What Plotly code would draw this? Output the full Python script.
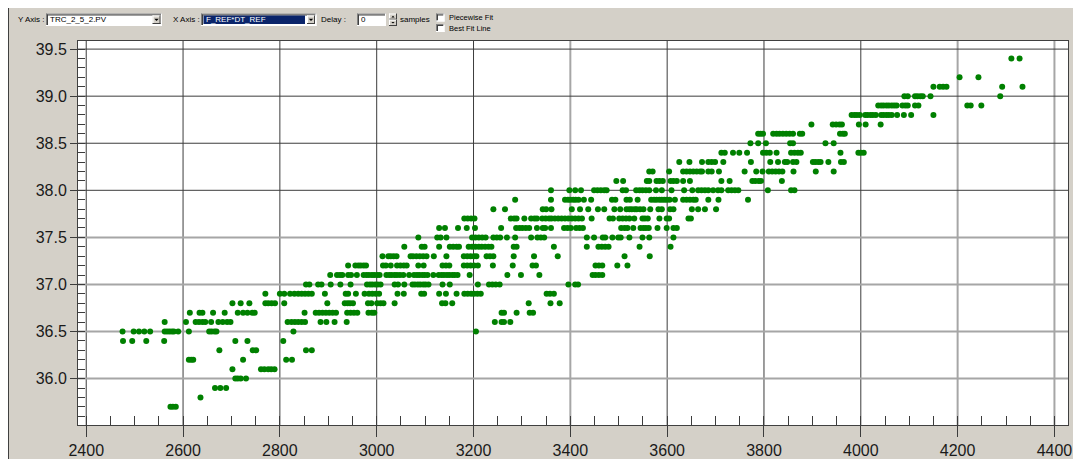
import plotly.graph_objects as go

# ---------------- data ----------------
row_y = [35.7, 35.8, 35.9, 36.0, 36.1, 36.2, 36.3, 36.4, 36.5, 36.6, 36.7, 36.8,
         36.9, 37.0, 37.1, 37.2, 37.3, 37.4, 37.5, 37.6, 37.7, 37.8, 37.9, 38.0,
         38.1, 38.2, 38.3, 38.4, 38.5, 38.6, 38.7, 38.8, 38.9, 39.0, 39.1, 39.2, 39.4]

row_x = [
    [2574, 2579, 2585],
    [2636],
    [2666, 2677, 2689],
    [2708, 2713, 2719, 2730],
    [2702, 2761, 2768, 2776, 2782, 2789],
    [2612, 2617, 2621, 2724, 2813, 2825],
    [2675, 2744, 2751, 2854, 2866],
    [2476, 2495, 2524, 2561, 2708, 2733, 2807],
    [2475, 2498, 2509, 2520, 2532, 2562, 2567, 2572, 2577, 2581, 2590, 2612, 2654, 2659,
     2665, 2669, 2828, 3205],
    [2562, 2606, 2626, 2633, 2640, 2646, 2658, 2673, 2682, 2691, 2698, 2816, 2824, 2831,
     2838, 2845, 2852, 2884, 2896, 2913, 2938, 3244, 3258, 3263, 3276],
    [2614, 2634, 2640, 2662, 2686, 2713, 2724, 2733, 2743, 2748, 2851, 2874, 2881, 2888,
     2895, 2902, 2909, 2916, 2939, 2946, 2953, 2960, 2983, 2990, 2995, 3258, 3263, 3289,
     3316, 3323],
    [2702, 2719, 2737, 2770, 2776, 2783, 2790, 2809, 2898, 2934, 2940, 2945, 2951, 2982,
     2989, 3001, 3008, 3014, 3037, 3135, 3142, 3156, 3314, 3359, 3378],
    [2770, 2800, 2809, 2821, 2830, 2838, 2845, 2852, 2859, 2866, 2893, 2936, 2941, 2957,
     2975, 2984, 2991, 2998, 3005, 3043, 3056, 3092, 3098, 3129, 3143, 3165, 3181, 3188,
     3195, 3201, 3208, 3215, 3351, 3358, 3366],
    [2854, 2861, 2879, 2886, 2905, 2925, 2946, 2980, 2986, 2991, 2997, 3002, 3008, 3037,
     3044, 3057, 3074, 3079, 3085, 3090, 3096, 3101, 3107, 3136, 3151, 3209, 3232, 3239,
     3246, 3254, 3396, 3410, 3416],
    [2904, 2918, 2924, 2929, 2941, 2947, 2959, 2973, 2979, 2984, 2990, 2995, 3001, 3006,
     3020, 3026, 3031, 3037, 3042, 3048, 3055, 3067, 3077, 3083, 3088, 3094, 3099, 3105,
     3117, 3128, 3134, 3139, 3145, 3150, 3156, 3161, 3167, 3192, 3270, 3298, 3336, 3446,
     3452, 3459, 3466],
    [2941, 2956, 2962, 2967, 2973, 2978, 3013, 3019, 3029, 3042, 3049, 3056, 3062, 3086,
     3097, 3136, 3143, 3150, 3180, 3187, 3194, 3201, 3209, 3240, 3281, 3322, 3329, 3452,
     3459, 3466, 3497, 3518],
    [3012, 3024, 3029, 3035, 3041, 3070, 3075, 3082, 3089, 3096, 3103, 3118, 3144, 3180,
     3187, 3194, 3201, 3206, 3227, 3234, 3241, 3283, 3325, 3374, 3512, 3564],
    [3057, 3093, 3099, 3129, 3151, 3158, 3165, 3170, 3190, 3197, 3204, 3211, 3217, 3224,
     3231, 3237, 3283, 3289, 3366, 3434, 3458, 3465, 3472, 3479, 3543, 3607],
    [3086, 3125, 3132, 3144, 3197, 3204, 3211, 3218, 3225, 3241, 3248, 3255, 3269, 3286,
     3319, 3332, 3339, 3346, 3434, 3449, 3467, 3472, 3487, 3499, 3504, 3522, 3549, 3563,
     3613],
    [3129, 3141, 3168, 3186, 3203, 3257, 3288, 3295, 3301, 3308, 3315, 3331, 3343, 3348,
     3360, 3387, 3394, 3401, 3412, 3419, 3426, 3505, 3512, 3518, 3530, 3545, 3551, 3556,
     3562, 3580, 3599, 3613, 3620],
    [3181, 3188, 3195, 3202, 3277, 3284, 3289, 3305, 3319, 3326, 3331, 3342, 3349, 3356,
     3361, 3368, 3375, 3382, 3389, 3396, 3403, 3410, 3417, 3424, 3444, 3481, 3488, 3501,
     3508, 3515, 3522, 3532, 3549, 3554, 3560, 3584, 3599, 3604, 3644, 3649],
    [3241, 3265, 3343, 3350, 3361, 3403, 3420, 3437, 3457, 3470, 3491, 3503, 3516, 3522,
     3527, 3533, 3537, 3544, 3551, 3565, 3582, 3589, 3606, 3613, 3651, 3664, 3678, 3701],
    [3286, 3360, 3389, 3395, 3400, 3406, 3411, 3417, 3428, 3443, 3486, 3493, 3516, 3523,
     3539, 3567, 3573, 3578, 3584, 3589, 3594, 3599, 3605, 3616, 3633, 3640, 3647, 3654,
     3659, 3685, 3706, 3767],
    [3360, 3398, 3410, 3422, 3449, 3456, 3463, 3470, 3475, 3508, 3515, 3536, 3543, 3549,
     3556, 3563, 3577, 3589, 3609, 3635, 3652, 3664, 3671, 3678, 3685, 3695, 3705, 3712,
     3726, 3733, 3740, 3747, 3808, 3856, 3863],
    [3495, 3509, 3558, 3563, 3578, 3584, 3591, 3607, 3613, 3620, 3633, 3647, 3712, 3729,
     3776, 3782, 3789, 3794, 3837],
    [3563, 3570, 3604, 3633, 3640, 3647, 3654, 3661, 3668, 3672, 3685, 3692, 3707, 3760,
     3784, 3797, 3810, 3817, 3824, 3831, 3838, 3861, 3907, 3944],
    [3625, 3646, 3672, 3685, 3692, 3699, 3716, 3773, 3813, 3829, 3843, 3848, 3860, 3867,
     3901, 3906, 3912, 3917, 3933, 3959, 3965],
    [3712, 3719, 3736, 3749, 3765, 3798, 3805, 3812, 3826, 3856, 3863, 3870, 3876, 3958,
     3995, 4000, 4006],
    [3772, 3788, 3804, 3854, 3860, 3927, 3944],
    [3788, 3793, 3798, 3819, 3826, 3832, 3839, 3846, 3853, 3860, 3874, 3879, 3957, 3963,
     3967],
    [3898, 3942, 3949, 3956, 3961, 3996, 4010, 4041],
    [3981, 3987, 3992, 3998, 4009, 4014, 4020, 4025, 4031, 4042, 4047, 4053, 4058, 4064,
     4075, 4089, 4104, 4150],
    [4036, 4042, 4047, 4053, 4058, 4064, 4069, 4074, 4086, 4092, 4097, 4112, 4119, 4220,
     4227, 4249],
    [4090, 4097, 4112, 4117, 4123, 4128, 4144, 4288],
    [4150, 4163, 4170, 4177, 4292, 4334],
    [4204, 4243],
    [4311, 4328],
]

x_ticks = [2400, 2600, 2800, 3000, 3200, 3400, 3600, 3800, 4000, 4200, 4400]
y_ticks = [36.0, 36.5, 37.0, 37.5, 38.0, 38.5, 39.0, 39.5]
x_range = [2383, 4428]
y_range = [35.507, 39.586]

y_field = "TRC_2_5_2.PV"
x_field = "F_REF*DT_REF"

# ---------------- figure ----------------
# the page puts the figure 8 px in from the top-left corner of the window
OX, OY = 8, 8
W, H = 1073, 451
L, R, T, B = 70, 13, 33, 34
PW, PH = W - L - R, H - T - B
PANEL = "#d4d0c8"
DARK = "#3c3c3c"
SOFT = "#a6a6a6"


def fx(p):
    # p: window pixel x
    return (p - OX - L) / PW


def fy(p):
    # p: window pixel y
    return (H - B - (p - OY)) / PH


xs, ys = [], []
for yv, xr in zip(row_y, row_x):
    xs.extend(xr)
    ys.extend([yv] * len(xr))

fig = go.Figure()
fig.add_trace(go.Scatter(
    x=xs, y=ys, mode="markers",
    marker=dict(color="#008000", size=6, line=dict(width=0)),
    hoverinfo="skip", showlegend=False,
))

shapes = []

# grid lines (some render soft/anti-aliased in the original)
soft_x = {3400, 4200, 4400}
soft_y = {36.0, 36.5, 37.0, 37.5}
for v in x_ticks:
    soft = v in soft_x
    shapes.append(dict(type="line", xref="x", yref="paper", x0=v, x1=v, y0=0, y1=1,
                       line=dict(color=SOFT if soft else DARK, width=2 if soft else 1),
                       layer="below"))
for v in y_ticks:
    soft = v in soft_y
    shapes.append(dict(type="line", xref="paper", yref="y", x0=0, x1=1, y0=v, y1=v,
                       line=dict(color=SOFT if soft else DARK, width=2 if soft else 1),
                       layer="below"))


def rect(x0, y0, x1, y1, fill):
    shapes.append(dict(type="rect", xref="paper", yref="paper",
                       x0=fx(x0), x1=fx(x1), y0=fy(y1), y1=fy(y0),
                       fillcolor=fill, line=dict(width=0), layer="above"))


def hline(x0, x1, y, color, w=1):
    shapes.append(dict(type="line", xref="paper", yref="paper",
                       x0=fx(x0), x1=fx(x1), y0=fy(y), y1=fy(y),
                       line=dict(color=color, width=w), layer="above"))


def vline(x, y0, y1, color, w=1):
    shapes.append(dict(type="line", xref="paper", yref="paper",
                       x0=fx(x), x1=fx(x), y0=fy(y0), y1=fy(y1),
                       line=dict(color=color, width=w), layer="above"))


# dark frame line on the left edge of the panel
vline(8.5, 8, 459, "#404040")

annotations = []


def label(x, y, text, size=8, color="#000000"):
    annotations.append(dict(xref="paper", yref="paper", x=fx(x), y=fy(y),
                            text=text, showarrow=False, xanchor="left", yanchor="middle",
                            xshift=-1,
                            font=dict(family="Liberation Sans, Arial", size=size, color=color)))


def sunken(x0, y0, x1, y1, fill="white"):
    rect(x0, y0, x1, y1, fill)
    hline(x0, x1, y0 + 0.5, "#808080")
    vline(x0 + 0.5, y0, y1, "#808080")
    hline(x0 + 1, x1 - 1, y0 + 1.5, "#404040")
    vline(x0 + 1.5, y0 + 1, y1 - 1, "#404040")
    hline(x0, x1, y1 - 0.5, "#ffffff")
    vline(x1 - 0.5, y0, y1, "#ffffff")


def button(x0, y0, x1, y1):
    rect(x0, y0, x1, y1, PANEL)
    hline(x0, x1, y0 + 0.5, "#ffffff")
    vline(x0 + 0.5, y0, y1, "#ffffff")
    hline(x0, x1, y1 - 0.5, "#404040")
    vline(x1 - 0.5, y0, y1, "#404040")


def arrow(cx, cy, s=3.0, up=False):
    d = -1 if up else 1
    shapes.append(dict(type="path", xref="paper", yref="paper",
                       path="M {} {} L {} {} L {} {} Z".format(
                           fx(cx - s), fy(cy - d * s / 2), fx(cx + s), fy(cy - d * s / 2),
                           fx(cx), fy(cy + d * s / 2)),
                       fillcolor="#000000", line=dict(color="#000000", width=0), layer="above"))


# toolbar
label(17, 19.6, "Y Axis :")
sunken(46, 13.5, 162, 26)
label(49, 19.8, y_field)
button(152.5, 15.5, 160.5, 24)
arrow(156.5, 19.8, 2.2)

label(171.5, 19.6, "X Axis :")
sunken(201, 13.5, 316.5, 26)
rect(203.5, 15.5, 305, 24, "#0a246a")
label(205, 19.8, x_field, color="#ffffff")
button(307, 15.5, 315, 24)
arrow(311, 19.8, 2.2)

label(320, 19.6, "Delay :")
sunken(357, 13.5, 386, 26)
label(360, 19.8, "0")
button(389, 13.5, 397, 19.7)
button(389, 19.7, 397, 26)
arrow(393, 16.6, 1.6, up=True)
arrow(393, 22.8, 1.6)
label(398.5, 19.8, "samples")

sunken(436, 13.5, 444.5, 21.5)
label(447.5, 17.3, "Piecewise Fit", size=7.5)
sunken(436, 24, 444.5, 32)
label(447.5, 28.3, "Best Fit Line", size=7.5)

tick_font = dict(family="Liberation Sans, Arial", size=16, color="#1a1a1a")

fig.update_layout(
    width=W, height=H,
    margin=dict(l=L, r=R, t=T, b=B, pad=0, autoexpand=False),
    paper_bgcolor=PANEL, plot_bgcolor="white",
    showlegend=False,
    shapes=shapes, annotations=annotations,
    xaxis=dict(range=x_range, tickvals=x_ticks, ticktext=[str(v) for v in x_ticks],
               automargin=False, showgrid=False, zeroline=False,
               showline=True, linecolor="#404040", linewidth=1, mirror=True,
               ticks="outside", ticklen=11, tickcolor=DARK, tickwidth=1,
               tickfont=tick_font,
               minor=dict(dtick=50, tick0=2400, ticks="inside", ticklen=9,
                          tickcolor=DARK, showgrid=False)),
    yaxis=dict(range=y_range, tickvals=y_ticks, ticktext=["%.1f" % v for v in y_ticks],
               automargin=False, showgrid=False, zeroline=False,
               showline=True, linecolor="#404040", linewidth=1, mirror=True,
               ticks="outside", ticklen=7, tickcolor=DARK, tickwidth=1,
               tickfont=tick_font,
               minor=dict(dtick=0.1, tick0=35.5, ticks="inside", ticklen=7,
                          tickcolor=DARK, showgrid=False)),
)

fig.write_html("out.html")
